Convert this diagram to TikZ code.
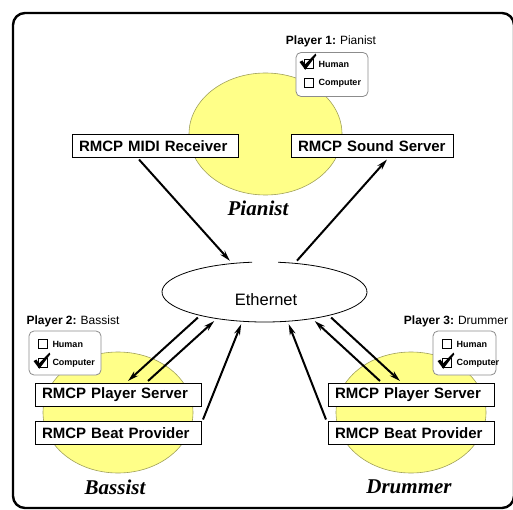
\documentclass[tikz,border=0pt]{standalone}
\usepackage{fontspec}
\setmainfont{Liberation Sans}
\newfontfamily\timesfont{Liberation Serif}
\usetikzlibrary{arrows.meta,shapes.geometric,positioning}

\tikzset{
  player/.style={ellipse, draw={rgb,255:red,160;green,160;blue,90}, fill={rgb,255:red,255;green,255;blue,136}, line width=0.6pt, inner sep=0pt},
  rmcp/.style={draw, fill=white, line width=0.9pt, inner xsep=7pt, inner ysep=0pt, outer sep=2pt, minimum height=23pt, text width=152pt, align=left, font=\bfseries\fontsize{15}{18}\selectfont},
  musician/.style={font=\timesfont\bfseries\itshape\fontsize{21}{24}\selectfont},
  panel/.style={draw={rgb,255:red,140;green,140;blue,140}, fill=white, rounded corners=5pt, line width=0.8pt, minimum height=44pt, inner sep=0pt},
  cbox/.style={draw, line width=0.6pt, minimum size=9pt, inner sep=0pt},
  choice/.style={inner sep=0pt, font=\bfseries\fontsize{9}{10}\selectfont},
  who/.style={font=\fontsize{12}{14}\selectfont},
  link/.style={line width=2pt, -{Stealth[length=11pt,width=6pt]}},
}
\newcommand{\tickat}[1]{\fill (#1) ++(-9,-2) -- ++(3,-1.5) -- ++(2.5,4) -- ++(10.5,-11) -- ++(0.8,1.8) -- ++(-11,14.5) -- cycle;}

\begin{document}
\begin{tikzpicture}[x=1pt,y=1pt,yscale=-1,xscale=1]
    \useasboundingbox (0,0) rectangle (513,510);

    %Frame
    \draw [line width=2.4pt, rounded corners=12pt] (13,13) rectangle (514,508);

    %Players
    \node [player, minimum width=153pt, minimum height=122pt] (pianist) at (265.5,134) {};
    \node [player, minimum width=150pt, minimum height=121pt] (bassist) at (118,412.5) {};
    \node [player, minimum width=150pt, minimum height=121pt] (drummer) at (411,412.5) {};
    \node [musician] (pianistname) at (258,208) {Pianist};
    \node [musician] (bassistname) at (115,487) {Bassist};
    \node [musician] (drummername) at (409,487) {Drummer};

    %Ethernet
    \node [ellipse, minimum width=205pt, minimum height=60pt, inner sep=0pt, outer sep=3pt] (ether) at (264.5,292) {};
    \draw [line width=0.8pt] (ether.center) ++(277.6:102.5 and 30) arc [start angle=277.6, end angle=623, x radius=102.5, y radius=30];
    \node [font=\fontsize{16.5}{19}\selectfont] (ethername) at (266,300) {Ethernet};

    %RMCP modules
    \node [rmcp] (recv) at (155,146) {RMCP MIDI Receiver};
    \node [rmcp, text width=148pt] (sound) at (372,146) {RMCP Sound Server};
    \node [rmcp] (bplay) at (118,394.5) {RMCP Player Server};
    \node [rmcp] (bbeat) at (118,433) {RMCP Beat Provider};
    \node [rmcp] (dplay) at (411,394.5) {RMCP Player Server};
    \node [rmcp] (dbeat) at (411,433) {RMCP Beat Provider};

    %Player 1
    \node [who] (p1name) at (331,41) {\textbf{Player 1:}\hspace{4pt}Pianist};
    \node [panel, minimum width=72pt] (p1panel) at (332,74.5) {};
    \node [cbox] (p1human) at (308.5,64) {};
    \node [cbox] (p1comp) at (308.5,83) {};
    \node [choice, right=5pt of p1human] (p1humantxt) {Human};
    \node [choice, right=5pt of p1comp] (p1comptxt) {Computer};
    \tickat{p1human.center}

    %Player 2
    \node [who] (p2name) at (73,321) {\textbf{Player 2:}\hspace{4pt}Bassist};
    \node [panel, minimum width=72pt] (p2panel) at (65,353) {};
    \node [cbox] (p2human) at (42.5,344) {};
    \node [cbox] (p2comp) at (42.5,363) {};
    \node [choice, right=5pt of p2human] (p2humantxt) {Human};
    \node [choice, right=5pt of p2comp] (p2comptxt) {Computer};
    \tickat{p2comp.center}

    %Player 3
    \node [who] (p3name) at (456,321) {\textbf{Player 3:}\hspace{4pt}Drummer};
    \node [panel, minimum width=63pt] (p3panel) at (464.5,353) {};
    \node [cbox] (p3human) at (446.5,344) {};
    \node [cbox] (p3comp) at (446.5,363) {};
    \node [choice, right=5pt of p3human] (p3humantxt) {Human};
    \node [choice, right=5pt of p3comp] (p3comptxt) {Computer};
    \tickat{p3comp.center}

    %Connections
    \draw [link] ([xshift=-16pt]recv.south) -- (ether.138);
    \draw [link] (ether.44) -- ([xshift=15pt]sound.south);
    \draw [link] (ether.201) -- ([xshift=10pt]bplay.north);
    \draw [link] ([xshift=30pt]bplay.north) -- (ether.210);
    \draw [link] (bbeat.north east) -- (ether.234);
    \draw [link] (ether.339) -- ([xshift=-11pt]dplay.north);
    \draw [link] ([xshift=-31pt]dplay.north) -- (ether.330);
    \draw [link] (dbeat.north west) -- (ether.307);

\end{tikzpicture}
\end{document}
